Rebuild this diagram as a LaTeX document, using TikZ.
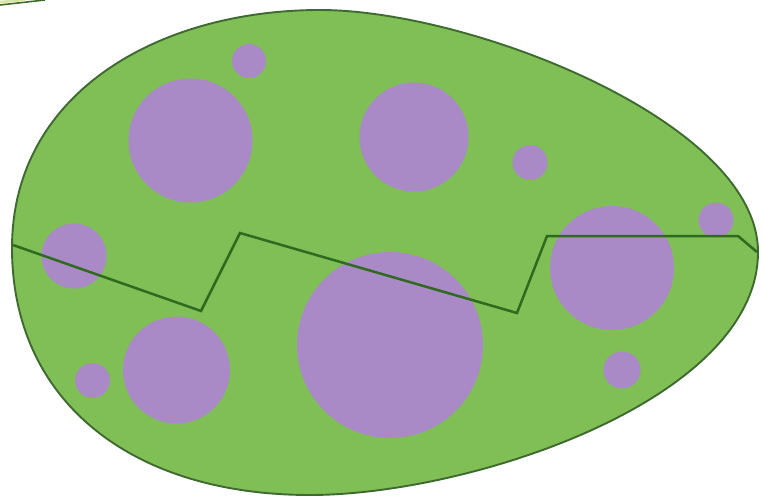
\documentclass[tikz,border=0pt]{standalone}
\definecolor{eggfill}{HTML}{7FBF56}
\definecolor{eggline}{HTML}{3F6A2F}
\definecolor{crack}{HTML}{2F6A1E}
\definecolor{spot}{HTML}{A98AC6}
\definecolor{fragfill}{HTML}{D8E6A0}
\begin{document}
\begin{tikzpicture}[x=1pt,y=-1pt,
  egg/.style={fill=eggfill,draw=eggline,line width=1.9pt},
  spotc/.style={fill=spot},
  crackline/.style={draw=crack,line width=2.5pt,line join=miter}]
\useasboundingbox (0,0) rectangle (763,500);
% fragment at top-left corner
\draw[draw=eggline,line width=1.6pt] (0,5) -- (45,0);
\draw[draw=fragfill,line width=2.5pt] (0,2) -- (25,0);
% egg
\path[egg] (12,248) .. controls (12,92) and (160,10) .. (320,10)
  .. controls (470,10) and (758,122) .. (758,252)
  .. controls (758,400) and (470,495) .. (310,495)
  .. controls (130,495) and (12,400) .. (12,248) -- cycle;
% spots
\fill[spotc] (249,61) circle (17);
\fill[spotc] (190.5,140.5) circle (62);
\fill[spotc] (414,137) circle (54.5);
\fill[spotc] (530,162.5) circle (17.5);
\fill[spotc] (74,256) circle (32.5);
\fill[spotc] (716,220) circle (17.5);
\fill[spotc] (612,268) circle (62);
\fill[spotc] (390,345) circle (93);
\fill[spotc] (176.5,370) circle (53.5);
\fill[spotc] (92.5,380.5) circle (17.5);
\fill[spotc] (622,370) circle (18.5);
% crack
\path[crackline] (13,245) -- (201,311) -- (240,233) -- (517,313) -- (547,236) -- (738,236) -- (757,252);
\end{tikzpicture}
\end{document}
